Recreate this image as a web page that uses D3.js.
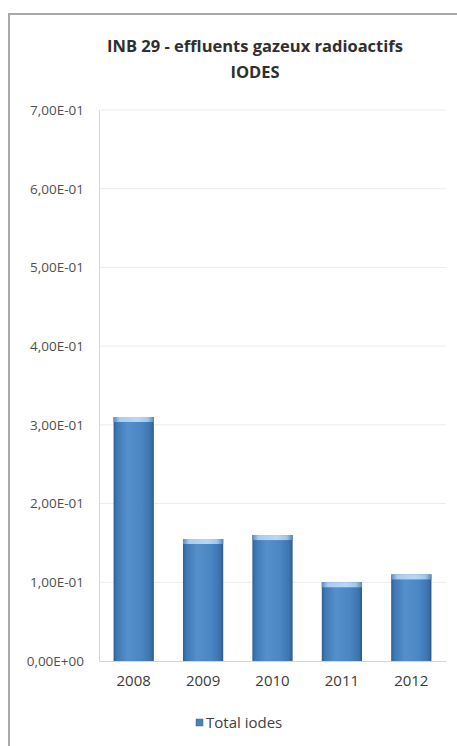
<!DOCTYPE html>
<html>
<head>
<meta charset="utf-8">
<script src="https://cdn.jsdelivr.net/npm/d3@7"></script>
<style>
  html, body { margin: 0; padding: 0; background: #fff; }
  svg { display: block; }
  text { font-family: "Open Sans", "DejaVu Sans", sans-serif; }
</style>
</head>
<body>
<svg id="chart" width="457" height="746"></svg>
<script>
// Annual gaseous iodine releases (INB 29)
const years = ["2008", "2009", "2010", "2011", "2012"];
const totalIodes = [0.31, 0.155, 0.16, 0.10, 0.11];
const yTicks = [0, 0.1, 0.2, 0.3, 0.4, 0.5, 0.6, 0.7];
const titleLines = ["INB 29 - effluents gazeux radioactifs", "IODES"];
const seriesName = "Total iodes";

const W = 457, H = 746;
const plot = { left: 99, right: 446, top: 110, bottom: 661 };

const svg = d3.select("#chart");

// Frame of the chart area
svg.append("path")
  .attr("d", d3.line()([[9, H], [9, 14], [W, 14]]))
  .attr("fill", "none")
  .attr("stroke", "#a9a9a9")
  .attr("stroke-width", 2);

// Column fill: darker edges, lighter middle
const defs = svg.append("defs");
const grad = defs.append("linearGradient").attr("id", "barGrad")
  .attr("x1", "0%").attr("x2", "100%").attr("y1", "0%").attr("y2", "0%");
[["0%", "#2f5f92"], ["8%", "#3f78b4"], ["35%", "#5590cc"], ["70%", "#4a86c3"], ["92%", "#3c73ae"], ["100%", "#2c5a8a"]]
  .forEach(([o, c]) => grad.append("stop").attr("offset", o).attr("stop-color", c));
const capGrad = defs.append("linearGradient").attr("id", "capGrad")
  .attr("x1", "0%").attr("x2", "100%").attr("y1", "0%").attr("y2", "0%");
[["0%", "#5c8cbf"], ["15%", "#a9cdef"], ["60%", "#b8d8f4"], ["85%", "#a2c6ea"], ["100%", "#5a88ba"]]
  .forEach(([o, c]) => capGrad.append("stop").attr("offset", o).attr("stop-color", c));

const x = d3.scaleBand().domain(years).range([plot.left, plot.right])
  .paddingInner(0.42).paddingOuter(0.21);
const y = d3.scaleLinear().domain([0, 0.7]).range([plot.bottom, plot.top]);

// Scientific labels in the French style: 7,00E-01
const sci = v => {
  const [m, e] = v.toExponential(2).split("e");
  const sign = e[0] === "-" ? "-" : "+";
  const digits = e.replace(/[+-]/, "").padStart(2, "0");
  return m.replace(".", ",") + "E" + sign + digits;
};

// Horizontal gridlines
svg.append("g")
  .selectAll("line")
  .data(yTicks.filter(d => d > 0))
  .join("line")
  .attr("x1", plot.left).attr("x2", plot.right)
  .attr("y1", d => y(d)).attr("y2", d => y(d))
  .attr("stroke", "#ececec").attr("stroke-width", 1);

// Y axis
const yAxis = svg.append("g")
  .attr("transform", `translate(${plot.left},0)`)
  .call(d3.axisLeft(y).tickValues(yTicks).tickFormat(sci).tickSize(0).tickPadding(15));
yAxis.select(".domain").attr("stroke", "#d4d4d4");
yAxis.selectAll("text")
  .attr("fill", "#505050")
  .style("font-size", "13.5px");

// Bars
const bars = svg.append("g");
bars.selectAll("rect.body")
  .data(years)
  .join("rect")
  .attr("class", "body")
  .attr("x", d => x(d))
  .attr("y", (d, i) => y(totalIodes[i]))
  .attr("width", x.bandwidth())
  .attr("height", (d, i) => y(0) - y(totalIodes[i]))
  .attr("fill", "url(#barGrad)");
bars.selectAll("rect.cap")
  .data(years)
  .join("rect")
  .attr("class", "cap")
  .attr("x", d => x(d))
  .attr("y", (d, i) => y(totalIodes[i]))
  .attr("width", x.bandwidth())
  .attr("height", 5)
  .attr("fill", "url(#capGrad)");

// X axis
const xAxis = svg.append("g")
  .attr("transform", `translate(0,${plot.bottom})`)
  .call(d3.axisBottom(x).tickSize(0).tickPadding(14));
xAxis.select(".domain").attr("stroke", "#d4d4d4");
xAxis.selectAll("text")
  .attr("fill", "#3a3a3a")
  .style("font-size", "15px");

// Title
svg.append("g")
  .selectAll("text")
  .data(titleLines)
  .join("text")
  .attr("x", 255)
  .attr("y", (d, i) => 52 + i * 26)
  .attr("text-anchor", "middle")
  .attr("fill", "#2f2f2f")
  .style("font-size", "16.5px")
  .style("font-weight", "bold")
  .text(d => d);

// Legend
const legend = svg.append("g").attr("transform", "translate(196,723)");
legend.append("rect")
  .attr("x", 0).attr("y", -4).attr("width", 7).attr("height", 7)
  .attr("fill", "#4a80b8").attr("stroke", "#3a6a9c").attr("stroke-width", 0.5);
legend.append("text")
  .attr("x", 10).attr("y", 5)
  .attr("fill", "#404040")
  .style("font-size", "15px")
  .text(seriesName);
</script>
</body>
</html>
